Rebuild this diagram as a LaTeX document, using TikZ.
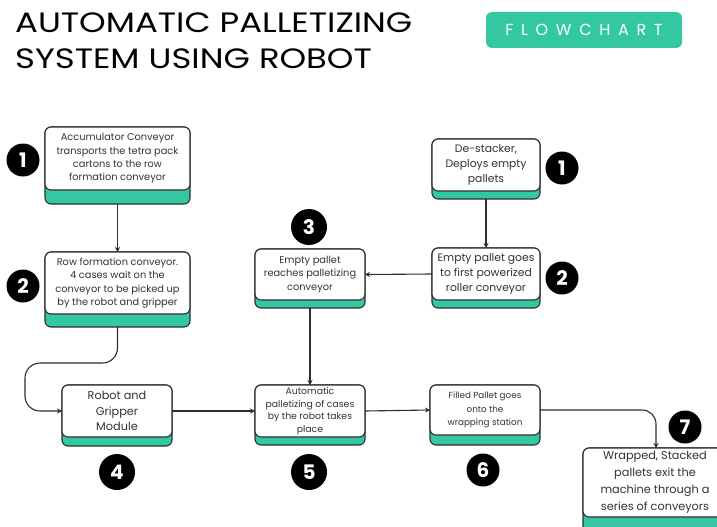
\documentclass[tikz,border=0pt]{standalone}
\usepackage{fontspec}
\setmainfont{Poppins}
\usetikzlibrary{arrows.meta}
\definecolor{tealc}{HTML}{33C8A1}
\definecolor{edgec}{HTML}{2E2E2E}
\definecolor{txtc}{HTML}{333333}
\tikzset{
  stepbox/.style={draw=edgec, line width=1.1pt, rounded corners=6pt, fill=white, align=center,
    text=txtc, inner sep=1pt, outer sep=0pt, anchor=north west},
  tealbase/.style={draw=edgec, line width=1.1pt, rounded corners=6pt, fill=tealc},
  num/.style={circle, fill=black, minimum size=33pt, inner sep=0pt, text=white,
    font=\fontsize{20}{20}\selectfont\bfseries},
  bignum/.style={num, minimum size=36pt},
  conn/.style={draw=edgec, line width=1.1pt, -{Stealth[length=5pt,width=5pt]}},
  titletext/.style={anchor=base west, inner sep=0pt, font=\fontsize{28}{28}\selectfont, text=black},
}
% name, left, top, right, white bottom, teal bottom, font, text
\newcommand\flowbox[8]{%
  \draw[tealbase] (#2,#3) rectangle (#4,#6);
  \node[stepbox, font=#7, minimum width={(#4-#2)*1pt}, minimum height={(#5-#3)*1pt}] (#1) at (#2,#3) {#8};
}
\begin{document}
\begin{tikzpicture}[x=1pt,y=-1pt]
\clip (0,0) rectangle (717,527);
\fill[white] (0,0) rectangle (717,527);

% title
\node[titletext] (t1) at (15,33) {\scalebox{1.21}[1]{AUTOMATIC PALLETIZING}};
\node[titletext] (t2) at (15,68) {\scalebox{1.21}[1]{SYSTEM USING ROBOT}};

% badge
\node[fill=tealc, rounded corners=6pt, minimum width=196pt, minimum height=36pt, inner sep=0pt,
  text=white, font=\fontsize{16}{16}\selectfont\addfontfeatures{LetterSpace=48}] (badge) at (584,30) {FLOWCHART};

% boxes
\flowbox{A1}{45}{127}{190}{190}{204}{\fontsize{9.8}{13.3}\selectfont}{Accumulator Conveyor\\transports the tetra pack\\cartons to the row\\formation conveyor}
\flowbox{A2}{45}{252}{190}{314}{327}{\fontsize{9.8}{13.3}\selectfont}{Row formation conveyor.\\4 cases wait on the\\conveyor to be picked up\\by the robot and gripper}
\flowbox{B3}{255}{249}{365}{300}{308}{\fontsize{9.8}{13.3}\selectfont}{Empty pallet\\reaches palletizing\\conveyor}
\flowbox{C1}{432}{139}{540}{191}{199}{\fontsize{10.8}{15}\selectfont}{De-stacker,\\Deploys empty\\pallets}
\flowbox{C2}{432}{248}{540}{300}{308}{\fontsize{10.8}{15}\selectfont}{Empty pallet goes\\to first powerized\\roller conveyor}
\flowbox{D4}{62}{385}{172}{437}{446}{\fontsize{11.3}{15.5}\selectfont}{Robot and\\Gripper\\Module}
\flowbox{D5}{255}{385}{365}{437}{445}{\fontsize{9.3}{12.5}\selectfont}{Automatic\\palletizing of cases\\by the robot takes\\place}
\flowbox{E6}{430}{385}{540}{435}{445}{\fontsize{8.8}{13.3}\selectfont}{Filled Pallet goes\\onto the\\wrapping station}
\flowbox{F7}{583}{448}{727}{517}{540}{\fontsize{11.3}{17}\selectfont}{\rule{0pt}{6pt}Wrapped, Stacked\\pallets exit the\\machine through a\\series of conveyors}

% numbers
\node[num] (nA1) at (23,160) {1};
\node[num] (nA2) at (23,286) {2};
\node[bignum] (nB3) at (309,227) {3};
\node[num] (nC1) at (562,168) {1};
\node[num] (nC2) at (562,278) {2};
\node[bignum] (nD4) at (117,472) {4};
\node[bignum] (nD5) at (309,472) {5};
\node[num] (nE6) at (483,470) {6};
\node[num] (nF7) at (685,427) {7};

% connectors
\draw[conn] ([yshift=-14pt]A1.south) -- (A2.north);
\draw[conn] ([yshift=-8pt]C1.south) -- (C2.north);
\draw[conn] (C2.west) -- (B3.east);
\draw[conn] ([yshift=-8pt]B3.south) -- (D5.north);
\draw[conn] (D4.east) -- (D5.west);
\draw[conn] (D5.west -| D5.east) -- (E6.west);
\coordinate (a2b) at ([yshift=-13pt]A2.south);
\draw[conn, rounded corners=15pt] (a2b) |- (25,363) |- (D4.west);
\draw[conn, rounded corners=14pt] (E6.east) -| ([xshift=1pt]F7.north);
\end{tikzpicture}
\end{document}
